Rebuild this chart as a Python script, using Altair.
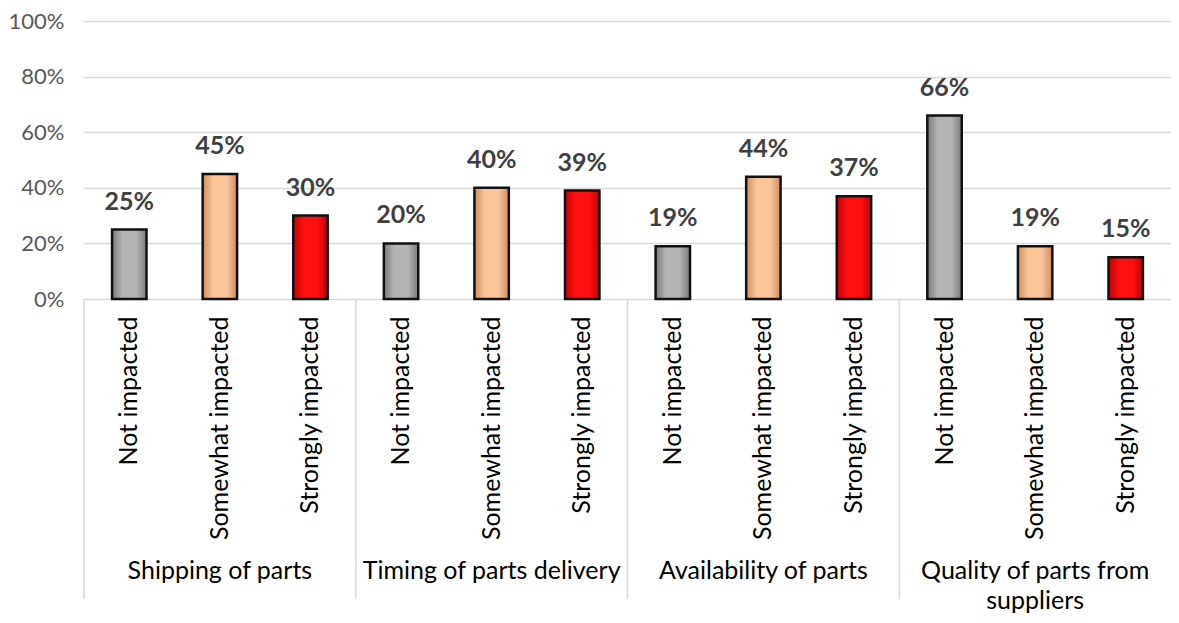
import altair as alt
import pandas as pd

groups = ["Shipping of parts", "Timing of parts delivery", "Availability of parts",
          "Quality of parts from suppliers"]
group_label_text = ["Shipping of parts", "Timing of parts delivery", "Availability of parts",
                    "Quality of parts from\nsuppliers"]
levels = ["Not impacted", "Somewhat impacted", "Strongly impacted"]
shipping = [25, 45, 30]
timing = [20, 40, 39]
availability = [19, 44, 37]
quality = [66, 19, 15]
group_values = [shipping, timing, availability, quality]
y_ticks = [0, 20, 40, 60, 80, 100]

rows = []
for g, vals in zip(groups, group_values):
    for lvl, v in zip(levels, vals):
        rows.append({"key": f"{g}|{lvl}", "group": g, "level": lvl, "value": v})
df = pd.DataFrame(rows)
keys = list(df["key"])

sep_df = pd.DataFrame({"key": [f"{g}|{levels[0]}" for g in groups]})
grp_df = pd.DataFrame({"key": [f"{g}|{levels[1]}" for g in groups], "text": group_label_text})

FONT = "Lato"
W = 1087
H = 278

xscale = alt.Scale(domain=keys, paddingInner=0, paddingOuter=0)
x_enc = alt.X("key:N", sort=keys, scale=xscale,
              axis=alt.Axis(title=None, labelAngle=-90, ticks=False, domain=False,
                            labelExpr="split(datum.label, '|')[1]", labelLimit=0,
                            labelFont=FONT, labelFontSize=25, labelColor="#000000",
                            labelPadding=17, grid=False))
y_enc = alt.Y("value:Q", scale=alt.Scale(domain=[0, 100], nice=False),
              axis=alt.Axis(title=None, values=y_ticks, labelExpr="datum.value + '%'",
                            domain=False, ticks=False, grid=True, gridColor="#d9d9d9",
                            gridWidth=1.5, labelFont=FONT, labelFontSize=22,
                            labelColor="#595959", labelPadding=20))

base = alt.Chart(df)

def grad(edge, mid):
    return alt.Gradient(
        gradient="linear", x1=0, x2=1, y1=0, y2=0,
        stops=[alt.GradientStop(color=edge, offset=0),
               alt.GradientStop(color=mid, offset=0.3),
               alt.GradientStop(color=mid, offset=0.7),
               alt.GradientStop(color=edge, offset=1)])

fills = {
    "Not impacted": grad("#7a7a7a", "#b4b4b4"),
    "Somewhat impacted": grad("#d08c5e", "#fcc499"),
    "Strongly impacted": grad("#c00000", "#ff1010"),
}

bar_layers = []
for lvl in levels:
    bar_layers.append(
        base.transform_filter(alt.datum.level == lvl)
        .mark_bar(color=fills[lvl], stroke="#111111", strokeWidth=2.5,
                  width=alt.RelativeBandSize(0.38))
        .encode(x=x_enc, y=y_enc)
    )

labels = base.transform_calculate(lab="datum.value + '%'").mark_text(
    dy=-20, baseline="alphabetic", font=FONT, fontSize=25, fontWeight="bold",
    color="#404040"
).encode(x=alt.X("key:N", sort=keys, scale=xscale), y=alt.Y("value:Q"), text="lab:N")

seps = alt.Chart(sep_df).mark_rule(color="#d9d9d9", strokeWidth=1.5).encode(
    x=alt.X("key:N", sort=keys, scale=xscale, bandPosition=0),
    y=alt.value(H), y2=alt.value(H + 300)
)

grp_labels = alt.Chart(grp_df).mark_text(
    font=FONT, fontSize=25, color="#000000", baseline="middle", lineBreak="\n",
    lineHeight=30
).encode(
    x=alt.X("key:N", sort=keys, scale=xscale),
    y=alt.value(H + 272),
    text="text:N"
)

chart = alt.layer(*bar_layers, labels, seps, grp_labels).properties(
    width=W, height=H, padding={"left": 0, "top": 2, "right": 0, "bottom": 0}
).configure_view(stroke=None)

chart.save("out.html", embed_options={"renderer": "svg", "actions": False})
